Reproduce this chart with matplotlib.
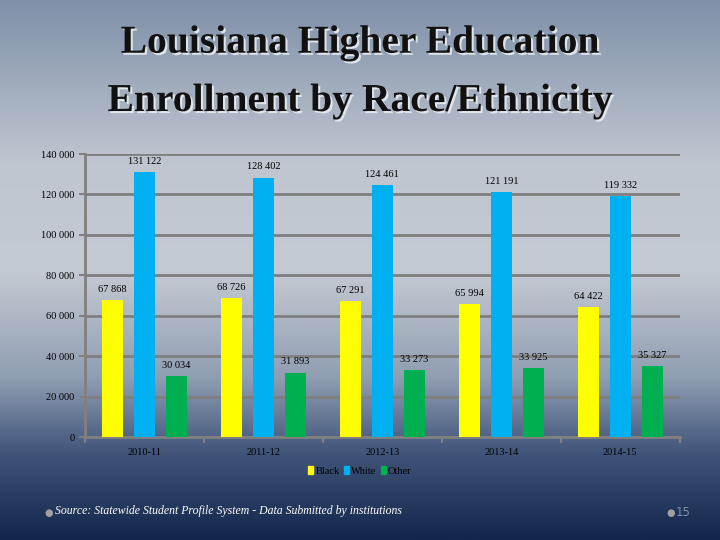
import matplotlib.pyplot as plt
import matplotlib.patheffects as pe
import numpy as np
from matplotlib.colors import LinearSegmentedColormap

years = ["2010-11", "2011-12", "2012-13", "2013-14", "2014-15"]
black = [67868, 68726, 67291, 65994, 64422]
white = [131122, 128402, 124461, 121191, 119332]
other = [30034, 31893, 33273, 33925, 35327]


def fmt(v):
    return f"{v:,}".replace(",", " ")


fig = plt.figure(figsize=(7.2, 5.4), dpi=100)

# slide background gradient
bg = fig.add_axes([0, 0, 1, 1], zorder=-10)
cmap = LinearSegmentedColormap.from_list(
    "slide",
    [(0.0, "#7f90a8"), (0.3, "#bfc6d0"), (0.5, "#c4cad2"),
     (0.7, "#909eb2"), (0.84, "#41557a"), (1.0, "#12254a")])
grad = np.linspace(0, 1, 256).reshape(-1, 1)
bg.imshow(grad, aspect="auto", cmap=cmap, extent=[0, 1, 0, 1], origin="upper")
bg.set_axis_off()

ax = fig.add_axes([0.118, 0.1907, 0.826, 0.524])
ax.patch.set_alpha(0)
x = np.arange(len(years))
w = 0.175
off = 0.27
cols = ["#ffff00", "#00b0f0", "#00b050"]
for series, dx, c in zip([black, white, other], [-off, 0, off], cols):
    bars = ax.bar(x + dx, series, width=w, color=c, zorder=3)
    for b, v in zip(bars, series):
        ax.text(b.get_x() + b.get_width() / 2, v + 3000, fmt(v), ha="center",
                va="bottom", fontsize=7.5, family="Liberation Serif", color="black")

ax.set_xlim(-0.5, len(years) - 0.5)
ax.set_ylim(0, 140000)
ax.set_yticks(range(0, 140001, 20000))
ax.set_yticklabels([fmt(v) for v in range(0, 140001, 20000)],
                   family="Liberation Serif", fontsize=7.5)
ax.set_xticks(x)
ax.set_xticklabels(years, family="Liberation Serif", fontsize=7.5)
ax.set_xticks(np.arange(-0.5, len(years)), minor=True)
ax.tick_params(axis="x", which="major", length=0, pad=8)
ax.tick_params(axis="x", which="minor", length=4, color="#808080", width=1.5)
ax.tick_params(axis="y", length=4, color="#808080", width=1.5)
ax.grid(axis="y", color="#7f7f7f", linewidth=2, zorder=0)
for s in ["top", "right"]:
    ax.spines[s].set_visible(False)
ax.spines["left"].set_color("#808080")
ax.spines["left"].set_linewidth(2)
ax.spines["bottom"].set_color("#808080")
ax.spines["bottom"].set_linewidth(2)

# legend
handles = [plt.Rectangle((0, 0), 1, 1, color=c) for c in cols]
leg = fig.legend(handles, ["Black", "White", "Other"], loc="center",
                 bbox_to_anchor=(0.5, 0.128), ncol=3, frameon=False,
                 handlelength=0.5, handleheight=0.8, handletextpad=0.2,
                 columnspacing=0.4, prop={"family": "Liberation Serif", "size": 7.5})

# title
shadow = [pe.withSimplePatchShadow(offset=(1.5, -1.5), shadow_rgbFace="#e8ecf0", alpha=0.9)]
fig.text(0.5, 0.92, "Louisiana Higher Education", ha="center", va="center",
         fontsize=28.5, fontweight="bold", family="Liberation Serif", color="#111111",
         path_effects=shadow)
fig.text(0.5, 0.812, "Enrollment by Race/Ethnicity", ha="center", va="center",
         fontsize=28.5, fontweight="bold", family="Liberation Serif", color="#111111",
         path_effects=shadow)

# footer
fig.text(0.067, 0.05, "\u25cf", ha="center", va="center", fontsize=7, color="#a0a0a0")
fig.text(0.077, 0.053, "Source: Statewide Student Profile System - Data Submitted by institutions",
         ha="left", va="center", fontsize=8.5, style="italic", family="Liberation Serif",
         color="white")
fig.text(0.931, 0.05, "\u25cf", ha="center", va="center", fontsize=7, color="#a0a0a0")
fig.text(0.939, 0.05, "15", ha="left", va="center", fontsize=8.5, color="#8090a8")

fig.savefig("out.png", dpi=100)
